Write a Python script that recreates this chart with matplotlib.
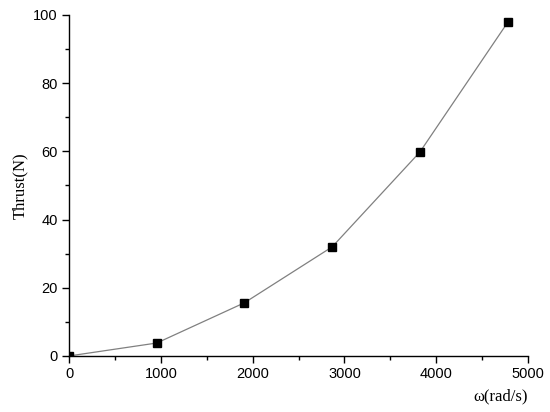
import matplotlib.pyplot as plt
from matplotlib.ticker import MultipleLocator

omega = [0, 956, 1911, 2867, 3822, 4778]
thrust = [0, 3.8, 15.6, 32.0, 59.8, 97.8]


def plot_thrust() -> None:
    fig = plt.figure(figsize=(5.5, 4.12), dpi=100)
    ax = fig.add_axes([0.1255, 0.136, 0.8345, 0.8276])
    ax.plot(omega, thrust, color="#808080", lw=0.9, marker="s",
            markersize=5.2, markerfacecolor="black", markeredgecolor="black",
            zorder=1)

    ax.set_xlim(0, 5000)
    ax.set_ylim(0, 100)
    ax.xaxis.set_major_locator(MultipleLocator(1000))
    ax.xaxis.set_minor_locator(MultipleLocator(500))
    ax.yaxis.set_major_locator(MultipleLocator(20))
    ax.yaxis.set_minor_locator(MultipleLocator(10))
    for side in ("top", "right"):
        ax.spines[side].set_visible(False)
    for side in ("left", "bottom"):
        ax.spines[side].set_linewidth(1.0)
    ax.tick_params(which="major", direction="out", length=5, width=1,
                   labelsize=10.5, pad=3)
    ax.tick_params(which="minor", direction="out", length=3, width=1)
    for lab in ax.get_xticklabels() + ax.get_yticklabels():
        lab.set_fontfamily("Liberation Sans")

    ax.set_ylabel("Thrust(N)", fontfamily="Liberation Serif", fontsize=12,
                  labelpad=4)
    ax.set_xlabel("ω(rad/s)", fontfamily="Liberation Serif", fontsize=12)
    ax.xaxis.set_label_coords(1.0, -0.095)
    ax.xaxis.label.set_horizontalalignment("right")

    fig.savefig("out.png", dpi=100)


if __name__ == "__main__":
    plot_thrust()
